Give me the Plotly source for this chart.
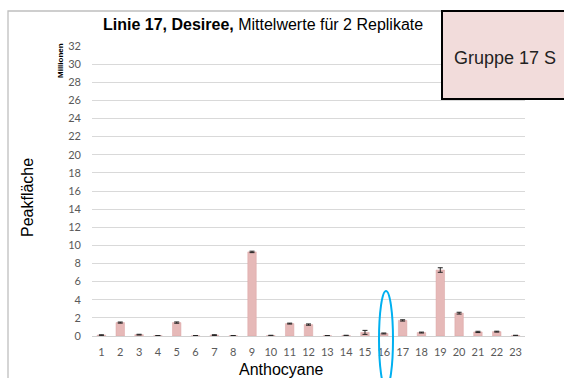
import plotly.graph_objects as go

categories = [str(i) for i in range(1, 24)]
values = [0.1, 1.48, 0.15, 0.03, 1.48, 0.03, 0.1, 0.03, 9.28, 0.05, 1.37, 1.26, 0.03,
          0.05, 0.4, 0.28, 1.72, 0.38, 7.28, 2.52, 0.45, 0.48, 0.05]
errors = [0.03, 0.06, 0.04, 0.02, 0.07, 0.02, 0.04, 0.02, 0.08, 0.03, 0.05, 0.07, 0.02,
          0.03, 0.22, 0.05, 0.07, 0.05, 0.25, 0.1, 0.07, 0.05, 0.03]
y_ticks = list(range(0, 33, 2))

W, H = 564, 378
L, R, T, B = 92, 39, 46, 42
PW, PH = W - L - R, H - T - B


def px(x):
    return (x - L) / PW


def py(y):
    return (H - B - y) / PH


fig = go.Figure()
fig.add_trace(go.Bar(
    x=categories, y=values,
    marker=dict(color="#e6b9b8", line=dict(color="#dba3a2", width=0.5)),
    width=0.45,
    error_y=dict(type="data", array=errors, visible=True, color="#222222",
                 thickness=1, width=2.5),
))

fig.update_layout(
    width=W, height=H,
    margin=dict(l=L, r=R, t=T, b=B, pad=0),
    paper_bgcolor="white", plot_bgcolor="white",
    showlegend=False,
    xaxis=dict(type="category", showgrid=False, showline=True, linecolor="#d0d0d0",
               linewidth=1, ticks="", tickfont=dict(family="Lato", size=11, color="#595959"),
               ticklabelstandoff=6),
    yaxis=dict(range=[0, 32], tickvals=y_ticks, showgrid=True, gridcolor="#d9d9d9",
               gridwidth=1, zeroline=False, showline=False, ticks="",
               tickfont=dict(family="Lato", size=11, color="#595959"),
               ticklabelstandoff=10),
)

shapes = [
    # outer chart frame
    dict(type="rect", xref="paper", yref="paper", x0=px(8), x1=px(620), y0=py(420), y1=py(11),
         line=dict(color="#bfbfbf", width=1.3), fillcolor="rgba(0,0,0,0)", layer="below"),
    # group box
    dict(type="rect", xref="paper", yref="paper", x0=px(442), x1=px(620), y0=py(99), y1=py(11),
         line=dict(color="black", width=2), fillcolor="#f2dcdb", layer="above"),
    # blue ellipse around 16
    dict(type="circle", xref="paper", yref="paper", x0=px(379), x1=px(393), y0=py(388), y1=py(291),
         line=dict(color="#00b0f0", width=2), layer="above"),
]
fig.update_layout(shapes=shapes)

ann = [
    dict(x=px(263), y=py(25), text="<b>Linie 17, Desiree,</b> Mittelwerte für 2 Replikate",
         font=dict(family="Liberation Sans", size=16, color="black")),
    dict(x=px(505), y=py(58), text="Gruppe 17 S",
         font=dict(family="Liberation Sans", size=18, color="#222222")),
    dict(x=px(60), y=py(61), text="<b>Millionen</b>", textangle=-90,
         font=dict(family="Liberation Sans", size=8, color="black")),
    dict(x=px(28), y=py(198), text="Peakfläche", textangle=-90,
         font=dict(family="Liberation Sans", size=16, color="black")),
    dict(x=px(281), y=py(369), text="Anthocyane",
         font=dict(family="Liberation Sans", size=16, color="black")),
]
for a in ann:
    a.update(xref="paper", yref="paper", showarrow=False, xanchor="center", yanchor="middle")
fig.update_layout(annotations=ann)

fig.write_html("out.html", config={"displayModeBar": False},
               post_script="document.body.style.margin='0px';document.body.style.overflow='hidden';")
